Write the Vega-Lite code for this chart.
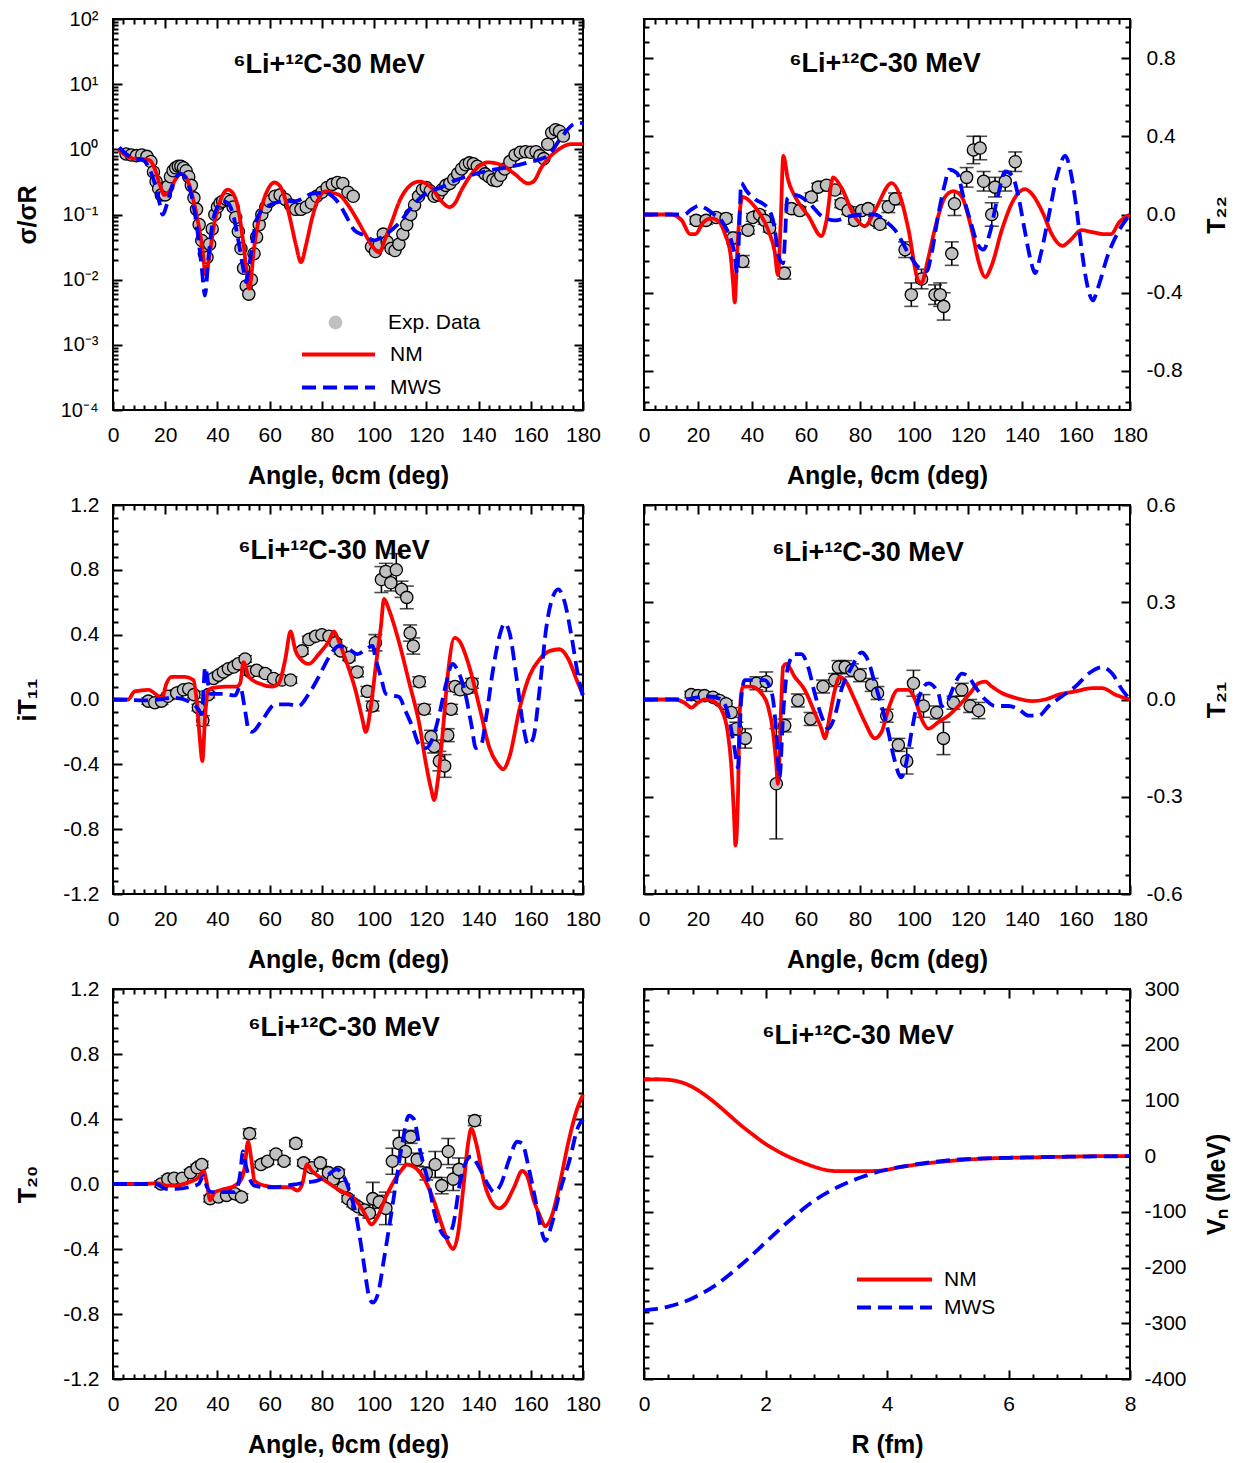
{
"$schema": "https://vega.github.io/schema/vega-lite/v6.json",
"background": "white",
"padding": {"left": 14, "top": 8, "right": 5, "bottom": 5},
"config": {
  "view": {"stroke": "black", "strokeWidth": 2},
  "font": "Liberation Sans",
  "axis": {"labelFont": "Liberation Sans", "titleFont": "Liberation Sans", "labelFontSize": 21, "titleFontSize": 25, "titleFontWeight": "bold", "labelColor": "black", "titleColor": "black", "tickColor": "black", "tickWidth": 2, "grid": false, "domain": false, "labelFlush": false, "labelOverlap": false},
  "legend": {"labelFont": "Liberation Sans", "labelFontSize": 21, "labelColor": "black", "padding": 0},
  "title": {"font": "Liberation Sans", "fontSize": 27, "fontWeight": "bold", "color": "black", "anchor": "middle", "frame": "group", "baseline": "alphabetic"}
},
"datasets": {
  "tl_lines": [
    {"model":"NM","angle":2,"value":1.0},{"model":"NM","angle":5,"value":0.8},{"model":"NM","angle":8,"value":0.72},{"model":"NM","angle":11,"value":0.71},{"model":"NM","angle":14,"value":0.68},{"model":"NM","angle":16,"value":0.5},{"model":"NM","angle":18,"value":0.28},{"model":"NM","angle":19.7,"value":0.2},{"model":"NM","angle":22,"value":0.24},{"model":"NM","angle":24,"value":0.35},{"model":"NM","angle":26,"value":0.42},{"model":"NM","angle":28,"value":0.37},{"model":"NM","angle":30,"value":0.22},{"model":"NM","angle":32,"value":0.1},{"model":"NM","angle":34,"value":0.035},{"model":"NM","angle":35.6,"value":0.012},{"model":"NM","angle":37,"value":0.025},{"model":"NM","angle":39,"value":0.08},{"model":"NM","angle":41,"value":0.16},{"model":"NM","angle":44,"value":0.24},{"model":"NM","angle":46,"value":0.21},{"model":"NM","angle":48,"value":0.12},{"model":"NM","angle":50,"value":0.035},{"model":"NM","angle":52.2,"value":0.0073},{"model":"NM","angle":54,"value":0.03},{"model":"NM","angle":56,"value":0.09},{"model":"NM","angle":58,"value":0.18},{"model":"NM","angle":60,"value":0.27},{"model":"NM","angle":61.8,"value":0.31},{"model":"NM","angle":64,"value":0.27},{"model":"NM","angle":66,"value":0.17},{"model":"NM","angle":68,"value":0.08},{"model":"NM","angle":70,"value":0.035},{"model":"NM","angle":72,"value":0.0186},{"model":"NM","angle":74,"value":0.035},{"model":"NM","angle":76,"value":0.08},{"model":"NM","angle":78,"value":0.15},{"model":"NM","angle":81.6,"value":0.227},{"model":"NM","angle":84,"value":0.215},{"model":"NM","angle":87,"value":0.195},{"model":"NM","angle":90,"value":0.14},{"model":"NM","angle":93,"value":0.09},{"model":"NM","angle":96,"value":0.055},{"model":"NM","angle":100,"value":0.03},{"model":"NM","angle":102,"value":0.026},{"model":"NM","angle":104,"value":0.04},{"model":"NM","angle":106.5,"value":0.072},{"model":"NM","angle":110,"value":0.17},{"model":"NM","angle":113,"value":0.26},{"model":"NM","angle":117.3,"value":0.32},{"model":"NM","angle":121.8,"value":0.26},{"model":"NM","angle":125.6,"value":0.163},{"model":"NM","angle":128.8,"value":0.13},{"model":"NM","angle":131,"value":0.15},{"model":"NM","angle":133.3,"value":0.23},{"model":"NM","angle":138.4,"value":0.47},{"model":"NM","angle":143.5,"value":0.63},{"model":"NM","angle":148.6,"value":0.58},{"model":"NM","angle":153.8,"value":0.42},{"model":"NM","angle":158.9,"value":0.3},{"model":"NM","angle":161,"value":0.32},{"model":"NM","angle":164,"value":0.52},{"model":"NM","angle":170.4,"value":0.98},{"model":"NM","angle":175.5,"value":1.2},{"model":"NM","angle":180,"value":1.2},
    {"model":"MWS","angle":2.4,"value":1.07},{"model":"MWS","angle":5,"value":0.85},{"model":"MWS","angle":8,"value":0.72},{"model":"MWS","angle":11,"value":0.7},{"model":"MWS","angle":14,"value":0.5},{"model":"MWS","angle":16,"value":0.3},{"model":"MWS","angle":18,"value":0.14},{"model":"MWS","angle":19,"value":0.1},{"model":"MWS","angle":21,"value":0.16},{"model":"MWS","angle":23,"value":0.3},{"model":"MWS","angle":26,"value":0.42},{"model":"MWS","angle":28,"value":0.35},{"model":"MWS","angle":30,"value":0.2},{"model":"MWS","angle":32,"value":0.07},{"model":"MWS","angle":34,"value":0.015},{"model":"MWS","angle":35.2,"value":0.0057},{"model":"MWS","angle":36.5,"value":0.02},{"model":"MWS","angle":38,"value":0.07},{"model":"MWS","angle":40,"value":0.13},{"model":"MWS","angle":42,"value":0.16},{"model":"MWS","angle":44,"value":0.15},{"model":"MWS","angle":46,"value":0.1},{"model":"MWS","angle":48,"value":0.04},{"model":"MWS","angle":50,"value":0.014},{"model":"MWS","angle":51,"value":0.0092},{"model":"MWS","angle":52.5,"value":0.02},{"model":"MWS","angle":54.5,"value":0.07},{"model":"MWS","angle":56.5,"value":0.11},{"model":"MWS","angle":58.7,"value":0.13},{"model":"MWS","angle":62,"value":0.15},{"model":"MWS","angle":66.3,"value":0.16},{"model":"MWS","angle":70,"value":0.16},{"model":"MWS","angle":73,"value":0.18},{"model":"MWS","angle":76.4,"value":0.21},{"model":"MWS","angle":81.6,"value":0.215},{"model":"MWS","angle":84,"value":0.19},{"model":"MWS","angle":86.7,"value":0.145},{"model":"MWS","angle":89,"value":0.1},{"model":"MWS","angle":92.5,"value":0.057},{"model":"MWS","angle":96.2,"value":0.048},{"model":"MWS","angle":100,"value":0.04},{"model":"MWS","angle":103.9,"value":0.048},{"model":"MWS","angle":109,"value":0.07},{"model":"MWS","angle":115.4,"value":0.146},{"model":"MWS","angle":120.5,"value":0.22},{"model":"MWS","angle":125.6,"value":0.26},{"model":"MWS","angle":130.7,"value":0.33},{"model":"MWS","angle":137.1,"value":0.4},{"model":"MWS","angle":143.5,"value":0.47},{"model":"MWS","angle":151.2,"value":0.53},{"model":"MWS","angle":158.9,"value":0.63},{"model":"MWS","angle":166.5,"value":0.8},{"model":"MWS","angle":171.6,"value":1.5},{"model":"MWS","angle":176.7,"value":2.45},{"model":"MWS","angle":180,"value":2.55}
  ],
  "tl_exp": [
    {"angle":5,"value":0.85},{"angle":7,"value":0.82},{"angle":9,"value":0.8},{"angle":11,"value":0.82},{"angle":13,"value":0.78},{"angle":14.5,"value":0.65},{"angle":15.5,"value":0.45},{"angle":16.5,"value":0.32},{"angle":17.5,"value":0.25},{"angle":18.5,"value":0.2},{"angle":20,"value":0.2},{"angle":21,"value":0.27},{"angle":22,"value":0.38},{"angle":23,"value":0.47},{"angle":24,"value":0.52},{"angle":25,"value":0.55},{"angle":26,"value":0.55},{"angle":27,"value":0.52},{"angle":28,"value":0.47},{"angle":29,"value":0.38},{"angle":30,"value":0.28},{"angle":31,"value":0.18},{"angle":32,"value":0.12},{"angle":33,"value":0.07},{"angle":34,"value":0.04},{"angle":35,"value":0.025},{"angle":36,"value":0.022},{"angle":37,"value":0.035},{"angle":38,"value":0.06},{"angle":39,"value":0.1},{"angle":40,"value":0.13},{"angle":41,"value":0.15},{"angle":42,"value":0.16},{"angle":43.5,"value":0.17},{"angle":45,"value":0.16},{"angle":46,"value":0.13},{"angle":47,"value":0.09},{"angle":48,"value":0.055},{"angle":49,"value":0.03},{"angle":50,"value":0.015},{"angle":51,"value":0.008},{"angle":52,"value":0.006},{"angle":53,"value":0.01},{"angle":54,"value":0.025},{"angle":55,"value":0.045},{"angle":56,"value":0.07},{"angle":57,"value":0.1},{"angle":58.5,"value":0.13},{"angle":60,"value":0.16},{"angle":62,"value":0.19},{"angle":64,"value":0.2},{"angle":66,"value":0.17},{"angle":68,"value":0.14},{"angle":70,"value":0.12},{"angle":72,"value":0.12},{"angle":74,"value":0.13},{"angle":76,"value":0.15},{"angle":78,"value":0.19},{"angle":80,"value":0.22},{"angle":82,"value":0.26},{"angle":84,"value":0.29},{"angle":86,"value":0.31},{"angle":88,"value":0.3},{"angle":90,"value":0.22},{"angle":92,"value":0.19},{"angle":99,"value":0.032},{"angle":100.5,"value":0.027},{"angle":102,"value":0.035},{"angle":103.5,"value":0.05},{"angle":105,"value":0.038},{"angle":106.5,"value":0.03},{"angle":108,"value":0.028},{"angle":109.5,"value":0.035},{"angle":111,"value":0.05},{"angle":112.5,"value":0.07},{"angle":114,"value":0.1},{"angle":115.5,"value":0.14},{"angle":117,"value":0.19},{"angle":118.5,"value":0.24},{"angle":120,"value":0.26},{"angle":121.5,"value":0.23},{"angle":123,"value":0.19},{"angle":124.5,"value":0.2},{"angle":126,"value":0.24},{"angle":127.5,"value":0.28},{"angle":129,"value":0.3},{"angle":130.5,"value":0.35},{"angle":132,"value":0.42},{"angle":133.5,"value":0.5},{"angle":135,"value":0.58},{"angle":136.5,"value":0.62},{"angle":138,"value":0.6},{"angle":139.5,"value":0.55},{"angle":141,"value":0.48},{"angle":142.5,"value":0.42},{"angle":144,"value":0.38},{"angle":145.5,"value":0.34},{"angle":147,"value":0.33},{"angle":148.5,"value":0.4},{"angle":150,"value":0.5},{"angle":152,"value":0.65},{"angle":154,"value":0.82},{"angle":156,"value":0.9},{"angle":158,"value":0.92},{"angle":160,"value":0.9},{"angle":162,"value":0.92},{"angle":163.5,"value":0.8},{"angle":165,"value":0.72},{"angle":166.5,"value":1.2},{"angle":168,"value":1.8},{"angle":169.5,"value":2.0},{"angle":171,"value":1.9},{"angle":172.5,"value":1.6}
  ],
  "tr_lines": [
    {"model":"NM","angle":0,"value":0},{"model":"NM","angle":10,"value":0},{"model":"NM","angle":14,"value":-0.03},{"model":"NM","angle":17,"value":-0.1},{"model":"NM","angle":19,"value":-0.1},{"model":"NM","angle":22,"value":-0.04},{"model":"NM","angle":25,"value":-0.02},{"model":"NM","angle":28,"value":-0.04},{"model":"NM","angle":30,"value":-0.1},{"model":"NM","angle":32,"value":-0.2},{"model":"NM","angle":33,"value":-0.35},{"model":"NM","angle":33.6,"value":-0.45},{"model":"NM","angle":34.5,"value":-0.2},{"model":"NM","angle":35.5,"value":0.02},{"model":"NM","angle":36.5,"value":0.09},{"model":"NM","angle":41,"value":0.04},{"model":"NM","angle":46,"value":-0.08},{"model":"NM","angle":48.4,"value":-0.19},{"model":"NM","angle":49.6,"value":-0.31},{"model":"NM","angle":50.6,"value":-0.05},{"model":"NM","angle":51.6,"value":0.3},{"model":"NM","angle":53.3,"value":0.18},{"model":"NM","angle":56,"value":0.09},{"model":"NM","angle":61,"value":-0.01},{"model":"NM","angle":65.7,"value":-0.11},{"model":"NM","angle":67.6,"value":-0.03},{"model":"NM","angle":70,"value":0.19},{"model":"NM","angle":73,"value":0.14},{"model":"NM","angle":78,"value":-0.01},{"model":"NM","angle":81.8,"value":-0.06},{"model":"NM","angle":85.5,"value":0.02},{"model":"NM","angle":91.7,"value":0.16},{"model":"NM","angle":95.4,"value":0.07},{"model":"NM","angle":98,"value":-0.08},{"model":"NM","angle":101.6,"value":-0.34},{"model":"NM","angle":102.8,"value":-0.35},{"model":"NM","angle":105,"value":-0.24},{"model":"NM","angle":107.8,"value":-0.07},{"model":"NM","angle":111.5,"value":0.09},{"model":"NM","angle":114.6,"value":0.12},{"model":"NM","angle":117.7,"value":0.09},{"model":"NM","angle":121.4,"value":-0.08},{"model":"NM","angle":123.9,"value":-0.24},{"model":"NM","angle":126.4,"value":-0.32},{"model":"NM","angle":128.8,"value":-0.26},{"model":"NM","angle":132.5,"value":-0.08},{"model":"NM","angle":136.3,"value":0.06},{"model":"NM","angle":141.2,"value":0.13},{"model":"NM","angle":144,"value":0.1},{"model":"NM","angle":148,"value":0.0},{"model":"NM","angle":151,"value":-0.1},{"model":"NM","angle":155,"value":-0.16},{"model":"NM","angle":158,"value":-0.13},{"model":"NM","angle":162,"value":-0.08},{"model":"NM","angle":166,"value":-0.09},{"model":"NM","angle":170,"value":-0.1},{"model":"NM","angle":173,"value":-0.1},{"model":"NM","angle":176,"value":-0.04},{"model":"NM","angle":180,"value":0.0},
    {"model":"MWS","angle":0,"value":0},{"model":"MWS","angle":15,"value":0},{"model":"MWS","angle":17,"value":0.02},{"model":"MWS","angle":20.5,"value":0.045},{"model":"MWS","angle":23,"value":0.03},{"model":"MWS","angle":26,"value":0.0},{"model":"MWS","angle":28,"value":-0.02},{"model":"MWS","angle":30,"value":-0.06},{"model":"MWS","angle":32,"value":-0.12},{"model":"MWS","angle":33.5,"value":-0.2},{"model":"MWS","angle":34.5,"value":-0.3},{"model":"MWS","angle":35.2,"value":-0.1},{"model":"MWS","angle":36,"value":0.16},{"model":"MWS","angle":38,"value":0.12},{"model":"MWS","angle":41,"value":0.08},{"model":"MWS","angle":46,"value":0.03},{"model":"MWS","angle":48.5,"value":-0.08},{"model":"MWS","angle":49.6,"value":-0.2},{"model":"MWS","angle":51.5,"value":-0.25},{"model":"MWS","angle":52.3,"value":-0.1},{"model":"MWS","angle":53,"value":0.08},{"model":"MWS","angle":56,"value":0.1},{"model":"MWS","angle":61,"value":0.06},{"model":"MWS","angle":66,"value":-0.01},{"model":"MWS","angle":71,"value":-0.03},{"model":"MWS","angle":76,"value":-0.01},{"model":"MWS","angle":81,"value":0.0},{"model":"MWS","angle":85.5,"value":0.0},{"model":"MWS","angle":89,"value":-0.03},{"model":"MWS","angle":93,"value":-0.08},{"model":"MWS","angle":98,"value":-0.2},{"model":"MWS","angle":101.6,"value":-0.27},{"model":"MWS","angle":104.7,"value":-0.29},{"model":"MWS","angle":106.5,"value":-0.2},{"model":"MWS","angle":109,"value":0.0},{"model":"MWS","angle":111.5,"value":0.16},{"model":"MWS","angle":113,"value":0.23},{"model":"MWS","angle":116,"value":0.21},{"model":"MWS","angle":118.3,"value":0.09},{"model":"MWS","angle":120.8,"value":-0.03},{"model":"MWS","angle":123.9,"value":-0.16},{"model":"MWS","angle":125.7,"value":-0.18},{"model":"MWS","angle":128,"value":-0.1},{"model":"MWS","angle":131,"value":0.09},{"model":"MWS","angle":133.8,"value":0.22},{"model":"MWS","angle":136.3,"value":0.2},{"model":"MWS","angle":138.7,"value":0.09},{"model":"MWS","angle":141,"value":-0.08},{"model":"MWS","angle":143.5,"value":-0.25},{"model":"MWS","angle":144.8,"value":-0.3},{"model":"MWS","angle":147,"value":-0.2},{"model":"MWS","angle":150,"value":0.0},{"model":"MWS","angle":153,"value":0.2},{"model":"MWS","angle":156,"value":0.3},{"model":"MWS","angle":158,"value":0.22},{"model":"MWS","angle":160,"value":0.05},{"model":"MWS","angle":162,"value":-0.17},{"model":"MWS","angle":164,"value":-0.35},{"model":"MWS","angle":166.3,"value":-0.44},{"model":"MWS","angle":168,"value":-0.38},{"model":"MWS","angle":172,"value":-0.2},{"model":"MWS","angle":176,"value":-0.08},{"model":"MWS","angle":180,"value":0.0}
  ],
  "tr_exp": [
    {"angle":19.3,"value":-0.03,"err":0.02},{"angle":23,"value":-0.03,"err":0.02},{"angle":26.7,"value":-0.015,"err":0.02},{"angle":30.4,"value":-0.02,"err":0.02},{"angle":33,"value":-0.12,"err":0.03},{"angle":36.6,"value":-0.24,"err":0.03},{"angle":38.5,"value":-0.08,"err":0.02},{"angle":40.3,"value":-0.015,"err":0.02},{"angle":42.8,"value":0.0,"err":0.02},{"angle":44.7,"value":-0.03,"err":0.02},{"angle":46.5,"value":-0.07,"err":0.02},{"angle":52,"value":-0.3,"err":0.03},{"angle":54.6,"value":0.03,"err":0.02},{"angle":57.7,"value":0.02,"err":0.02},{"angle":62,"value":0.09,"err":0.02},{"angle":64.5,"value":0.14,"err":0.02},{"angle":67.6,"value":0.15,"err":0.02},{"angle":70.7,"value":0.125,"err":0.02},{"angle":73,"value":0.055,"err":0.02},{"angle":75.6,"value":0.02,"err":0.02},{"angle":78,"value":-0.03,"err":0.02},{"angle":80.6,"value":0.02,"err":0.02},{"angle":83,"value":0.03,"err":0.02},{"angle":85.5,"value":-0.03,"err":0.02},{"angle":87.4,"value":-0.05,"err":0.02},{"angle":90.5,"value":0.04,"err":0.03},{"angle":93,"value":0.08,"err":0.03},{"angle":96.7,"value":-0.18,"err":0.04},{"angle":99,"value":-0.41,"err":0.06},{"angle":102.8,"value":-0.33,"err":0.05},{"angle":107.8,"value":-0.41,"err":0.05},{"angle":109.7,"value":-0.41,"err":0.06},{"angle":111,"value":-0.47,"err":0.07},{"angle":114,"value":-0.2,"err":0.06},{"angle":115,"value":0.055,"err":0.06},{"angle":119.5,"value":0.19,"err":0.05},{"angle":122,"value":0.33,"err":0.07},{"angle":124.5,"value":0.34,"err":0.06},{"angle":125.8,"value":0.17,"err":0.05},{"angle":128.8,"value":0.0,"err":0.06},{"angle":130,"value":0.14,"err":0.05},{"angle":133.8,"value":0.17,"err":0.05},{"angle":137.5,"value":0.27,"err":0.05}
  ],
  "ml_lines": [
    {"model":"NM","angle":0,"value":0},{"model":"NM","angle":5.8,"value":0},{"model":"NM","angle":8.3,"value":0.05},{"model":"NM","angle":13.5,"value":0.06},{"model":"NM","angle":17.3,"value":0.02},{"model":"NM","angle":18.6,"value":0.0},{"model":"NM","angle":20.5,"value":0.1},{"model":"NM","angle":22.4,"value":0.14},{"model":"NM","angle":27.6,"value":0.14},{"model":"NM","angle":30.8,"value":0.12},{"model":"NM","angle":32,"value":0.0},{"model":"NM","angle":33.3,"value":-0.25},{"model":"NM","angle":34.2,"value":-0.38},{"model":"NM","angle":35.3,"value":-0.1},{"model":"NM","angle":36.3,"value":0.05},{"model":"NM","angle":37.8,"value":0.07},{"model":"NM","angle":43,"value":0.08},{"model":"NM","angle":47.4,"value":0.08},{"model":"NM","angle":48.7,"value":0.1},{"model":"NM","angle":50,"value":0.23},{"model":"NM","angle":52,"value":0.14},{"model":"NM","angle":55.8,"value":0.1},{"model":"NM","angle":61,"value":0.08},{"model":"NM","angle":63.5,"value":0.1},{"model":"NM","angle":66,"value":0.25},{"model":"NM","angle":68,"value":0.42},{"model":"NM","angle":69.9,"value":0.3},{"model":"NM","angle":71.8,"value":0.25},{"model":"NM","angle":75,"value":0.22},{"model":"NM","angle":78.8,"value":0.28},{"model":"NM","angle":82.7,"value":0.36},{"model":"NM","angle":84.6,"value":0.42},{"model":"NM","angle":86.5,"value":0.36},{"model":"NM","angle":89,"value":0.25},{"model":"NM","angle":93,"value":0.05},{"model":"NM","angle":95.5,"value":-0.12},{"model":"NM","angle":96.8,"value":-0.2},{"model":"NM","angle":98.7,"value":-0.05},{"model":"NM","angle":100.6,"value":0.2},{"model":"NM","angle":102.6,"value":0.45},{"model":"NM","angle":103.8,"value":0.62},{"model":"NM","angle":105.8,"value":0.55},{"model":"NM","angle":109.6,"value":0.35},{"model":"NM","angle":113.5,"value":0.1},{"model":"NM","angle":117.3,"value":-0.15},{"model":"NM","angle":119.9,"value":-0.4},{"model":"NM","angle":121.8,"value":-0.55},{"model":"NM","angle":123,"value":-0.62},{"model":"NM","angle":124.4,"value":-0.5},{"model":"NM","angle":126.3,"value":-0.2},{"model":"NM","angle":128.2,"value":0.15},{"model":"NM","angle":130.8,"value":0.38},{"model":"NM","angle":132.7,"value":0.36},{"model":"NM","angle":136.5,"value":0.2},{"model":"NM","angle":140.4,"value":-0.05},{"model":"NM","angle":144.2,"value":-0.3},{"model":"NM","angle":147.4,"value":-0.4},{"model":"NM","angle":149.4,"value":-0.43},{"model":"NM","angle":151.9,"value":-0.35},{"model":"NM","angle":155.8,"value":-0.05},{"model":"NM","angle":159.6,"value":0.15},{"model":"NM","angle":163.5,"value":0.25},{"model":"NM","angle":167.3,"value":0.3},{"model":"NM","angle":171,"value":0.31},{"model":"NM","angle":174.4,"value":0.25},{"model":"NM","angle":177.6,"value":0.12},{"model":"NM","angle":180,"value":0.03},
    {"model":"MWS","angle":0,"value":0},{"model":"MWS","angle":13.5,"value":-0.005},{"model":"MWS","angle":23.7,"value":0.01},{"model":"MWS","angle":30,"value":-0.02},{"model":"MWS","angle":32.7,"value":-0.06},{"model":"MWS","angle":34,"value":-0.09},{"model":"MWS","angle":35.3,"value":0.2},{"model":"MWS","angle":37.2,"value":0.035},{"model":"MWS","angle":41.7,"value":0.035},{"model":"MWS","angle":46.8,"value":0.025},{"model":"MWS","angle":48.7,"value":0.08},{"model":"MWS","angle":50.6,"value":-0.07},{"model":"MWS","angle":52,"value":-0.19},{"model":"MWS","angle":53.2,"value":-0.2},{"model":"MWS","angle":57,"value":-0.13},{"model":"MWS","angle":62.2,"value":-0.03},{"model":"MWS","angle":67.3,"value":-0.03},{"model":"MWS","angle":71,"value":-0.04},{"model":"MWS","angle":75,"value":0.035},{"model":"MWS","angle":78.8,"value":0.14},{"model":"MWS","angle":82.7,"value":0.26},{"model":"MWS","angle":86.5,"value":0.33},{"model":"MWS","angle":90.4,"value":0.31},{"model":"MWS","angle":93.6,"value":0.28},{"model":"MWS","angle":96.8,"value":0.31},{"model":"MWS","angle":99.4,"value":0.33},{"model":"MWS","angle":100.6,"value":0.25},{"model":"MWS","angle":102.6,"value":0.14},{"model":"MWS","angle":104.5,"value":0.035},{"model":"MWS","angle":107,"value":0.025},{"model":"MWS","angle":109.6,"value":0.015},{"model":"MWS","angle":112,"value":-0.07},{"model":"MWS","angle":114.7,"value":-0.17},{"model":"MWS","angle":117.3,"value":-0.28},{"model":"MWS","angle":119.9,"value":-0.3},{"model":"MWS","angle":122.4,"value":-0.24},{"model":"MWS","angle":125,"value":-0.09},{"model":"MWS","angle":127.6,"value":0.1},{"model":"MWS","angle":130,"value":0.22},{"model":"MWS","angle":132,"value":0.18},{"model":"MWS","angle":134.6,"value":0.06},{"model":"MWS","angle":137.2,"value":-0.15},{"model":"MWS","angle":139,"value":-0.3},{"model":"MWS","angle":141,"value":-0.28},{"model":"MWS","angle":142.9,"value":-0.11},{"model":"MWS","angle":145.5,"value":0.18},{"model":"MWS","angle":148,"value":0.39},{"model":"MWS","angle":150,"value":0.47},{"model":"MWS","angle":151.9,"value":0.41},{"model":"MWS","angle":154.5,"value":0.14},{"model":"MWS","angle":157,"value":-0.15},{"model":"MWS","angle":159,"value":-0.28},{"model":"MWS","angle":160.9,"value":-0.24},{"model":"MWS","angle":163.5,"value":0.08},{"model":"MWS","angle":166,"value":0.45},{"model":"MWS","angle":168.6,"value":0.64},{"model":"MWS","angle":170.5,"value":0.68},{"model":"MWS","angle":173,"value":0.6},{"model":"MWS","angle":175.6,"value":0.39},{"model":"MWS","angle":178.2,"value":0.14},{"model":"MWS","angle":180,"value":0.02}
  ],
  "ml_exp": [
    {"angle":13.5,"value":-0.01,"err":0.02},{"angle":16,"value":-0.02,"err":0.02},{"angle":18.6,"value":-0.01,"err":0.02},{"angle":21,"value":0.02,"err":0.02},{"angle":24.4,"value":0.04,"err":0.02},{"angle":27,"value":0.06,"err":0.02},{"angle":29,"value":0.065,"err":0.02},{"angle":31,"value":0.03,"err":0.02},{"angle":32.7,"value":-0.05,"err":0.02},{"angle":34.4,"value":-0.13,"err":0.03},{"angle":36.5,"value":0.03,"err":0.02},{"angle":38.5,"value":0.13,"err":0.02},{"angle":40.4,"value":0.15,"err":0.02},{"angle":42.3,"value":0.17,"err":0.02},{"angle":44.2,"value":0.19,"err":0.02},{"angle":46.2,"value":0.2,"err":0.02},{"angle":48,"value":0.22,"err":0.02},{"angle":50.6,"value":0.25,"err":0.02},{"angle":52.6,"value":0.17,"err":0.02},{"angle":55,"value":0.18,"err":0.02},{"angle":58.3,"value":0.16,"err":0.02},{"angle":61.5,"value":0.13,"err":0.02},{"angle":64.7,"value":0.12,"err":0.02},{"angle":68,"value":0.12,"err":0.02},{"angle":72.4,"value":0.3,"err":0.02},{"angle":75,"value":0.37,"err":0.02},{"angle":77.6,"value":0.39,"err":0.02},{"angle":80,"value":0.4,"err":0.02},{"angle":82.7,"value":0.39,"err":0.02},{"angle":85.3,"value":0.35,"err":0.02},{"angle":87.2,"value":0.3,"err":0.02},{"angle":90.4,"value":0.26,"err":0.02},{"angle":93.5,"value":0.17,"err":0.03},{"angle":97.4,"value":0.05,"err":0.03},{"angle":99.4,"value":-0.04,"err":0.03},{"angle":100.5,"value":0.35,"err":0.05},{"angle":102.8,"value":0.74,"err":0.08},{"angle":104.5,"value":0.79,"err":0.05},{"angle":106.4,"value":0.72,"err":0.05},{"angle":108.5,"value":0.8,"err":0.1},{"angle":110.5,"value":0.68,"err":0.05},{"angle":112.5,"value":0.63,"err":0.07},{"angle":113.8,"value":0.41,"err":0.05},{"angle":115,"value":0.33,"err":0.05},{"angle":117.3,"value":0.11,"err":0.03},{"angle":119.2,"value":-0.06,"err":0.03},{"angle":121.8,"value":-0.23,"err":0.04},{"angle":123,"value":-0.29,"err":0.04},{"angle":125,"value":-0.38,"err":0.06},{"angle":127,"value":-0.41,"err":0.07},{"angle":128.2,"value":-0.22,"err":0.04},{"angle":129.5,"value":-0.06,"err":0.03},{"angle":131,"value":0.08,"err":0.03},{"angle":133,"value":0.06,"err":0.03},{"angle":135.9,"value":0.07,"err":0.03},{"angle":137.5,"value":0.1,"err":0.03}
  ],
  "mr_lines": [
    {"model":"NM","angle":0,"value":0},{"model":"NM","angle":11.3,"value":0},{"model":"NM","angle":15,"value":-0.01},{"model":"NM","angle":17.5,"value":-0.025},{"model":"NM","angle":20,"value":-0.01},{"model":"NM","angle":22.4,"value":0.0},{"model":"NM","angle":25.5,"value":-0.005},{"model":"NM","angle":28.6,"value":-0.03},{"model":"NM","angle":31,"value":-0.1},{"model":"NM","angle":32.3,"value":-0.2},{"model":"NM","angle":33.3,"value":-0.35},{"model":"NM","angle":33.9,"value":-0.45},{"model":"NM","angle":34.8,"value":-0.3},{"model":"NM","angle":35.4,"value":-0.05},{"model":"NM","angle":36.6,"value":0.04},{"model":"NM","angle":39.7,"value":0.04},{"model":"NM","angle":43.4,"value":0.02},{"model":"NM","angle":45.9,"value":-0.02},{"model":"NM","angle":47.8,"value":-0.1},{"model":"NM","angle":49,"value":-0.2},{"model":"NM","angle":49.6,"value":-0.26},{"model":"NM","angle":50.9,"value":0.0},{"model":"NM","angle":51.5,"value":0.1},{"model":"NM","angle":52.7,"value":0.11},{"model":"NM","angle":55.8,"value":0.07},{"model":"NM","angle":59.5,"value":0.03},{"model":"NM","angle":63.2,"value":-0.04},{"model":"NM","angle":65.7,"value":-0.09},{"model":"NM","angle":67,"value":-0.12},{"model":"NM","angle":68.8,"value":-0.05},{"model":"NM","angle":70.7,"value":0.03},{"model":"NM","angle":72.5,"value":0.07},{"model":"NM","angle":74.4,"value":0.06},{"model":"NM","angle":78,"value":0.0},{"model":"NM","angle":81.8,"value":-0.07},{"model":"NM","angle":85.5,"value":-0.12},{"model":"NM","angle":88,"value":-0.1},{"model":"NM","angle":90.5,"value":-0.03},{"model":"NM","angle":94,"value":0.03},{"model":"NM","angle":97.9,"value":0.03},{"model":"NM","angle":100.4,"value":0.0},{"model":"NM","angle":102.8,"value":-0.06},{"model":"NM","angle":105.3,"value":-0.09},{"model":"NM","angle":109,"value":-0.07},{"model":"NM","angle":112.7,"value":-0.05},{"model":"NM","angle":116.5,"value":-0.02},{"model":"NM","angle":120.8,"value":0.02},{"model":"NM","angle":123.9,"value":0.05},{"model":"NM","angle":126.4,"value":0.055},{"model":"NM","angle":128.8,"value":0.04},{"model":"NM","angle":132.5,"value":0.02},{"model":"NM","angle":137.5,"value":0.005},{"model":"NM","angle":143.7,"value":-0.005},{"model":"NM","angle":148.6,"value":0.0},{"model":"NM","angle":153.6,"value":0.015},{"model":"NM","angle":159.8,"value":0.025},{"model":"NM","angle":166,"value":0.035},{"model":"NM","angle":169.7,"value":0.035},{"model":"NM","angle":174.6,"value":0.015},{"model":"NM","angle":180,"value":0},
    {"model":"MWS","angle":0,"value":0},{"model":"MWS","angle":15,"value":0},{"model":"MWS","angle":18.7,"value":0.005},{"model":"MWS","angle":23.6,"value":0.01},{"model":"MWS","angle":28.6,"value":0.0},{"model":"MWS","angle":31,"value":-0.04},{"model":"MWS","angle":33.5,"value":-0.15},{"model":"MWS","angle":34.8,"value":-0.21},{"model":"MWS","angle":36,"value":0.0},{"model":"MWS","angle":37.3,"value":0.06},{"model":"MWS","angle":41,"value":0.06},{"model":"MWS","angle":44.7,"value":0.06},{"model":"MWS","angle":46.5,"value":0.04},{"model":"MWS","angle":47.8,"value":0.0},{"model":"MWS","angle":49,"value":-0.1},{"model":"MWS","angle":50.2,"value":-0.24},{"model":"MWS","angle":51.5,"value":-0.05},{"model":"MWS","angle":53.3,"value":0.1},{"model":"MWS","angle":55.8,"value":0.14},{"model":"MWS","angle":58.3,"value":0.14},{"model":"MWS","angle":60.8,"value":0.1},{"model":"MWS","angle":63.2,"value":0.02},{"model":"MWS","angle":65.7,"value":-0.05},{"model":"MWS","angle":68.2,"value":-0.09},{"model":"MWS","angle":70.7,"value":-0.05},{"model":"MWS","angle":73.1,"value":0.03},{"model":"MWS","angle":76.9,"value":0.1},{"model":"MWS","angle":80.6,"value":0.145},{"model":"MWS","angle":83,"value":0.12},{"model":"MWS","angle":85.5,"value":0.05},{"model":"MWS","angle":88,"value":-0.02},{"model":"MWS","angle":90.5,"value":-0.1},{"model":"MWS","angle":92.3,"value":-0.17},{"model":"MWS","angle":95.3,"value":-0.24},{"model":"MWS","angle":97,"value":-0.2},{"model":"MWS","angle":99.1,"value":-0.1},{"model":"MWS","angle":101.6,"value":0.0},{"model":"MWS","angle":105.3,"value":0.05},{"model":"MWS","angle":109,"value":0.02},{"model":"MWS","angle":110.3,"value":-0.02},{"model":"MWS","angle":112.7,"value":0.0},{"model":"MWS","angle":115.2,"value":0.05},{"model":"MWS","angle":117.7,"value":0.08},{"model":"MWS","angle":120.2,"value":0.07},{"model":"MWS","angle":122.6,"value":0.04},{"model":"MWS","angle":126.4,"value":0.0},{"model":"MWS","angle":130,"value":-0.02},{"model":"MWS","angle":135,"value":-0.02},{"model":"MWS","angle":138.7,"value":-0.03},{"model":"MWS","angle":142.5,"value":-0.05},{"model":"MWS","angle":146.2,"value":-0.05},{"model":"MWS","angle":149.9,"value":-0.02},{"model":"MWS","angle":154.8,"value":0.01},{"model":"MWS","angle":159.8,"value":0.04},{"model":"MWS","angle":164.7,"value":0.08},{"model":"MWS","angle":169.7,"value":0.1},{"model":"MWS","angle":173.4,"value":0.08},{"model":"MWS","angle":177.1,"value":0.03},{"model":"MWS","angle":180,"value":0}
  ],
  "mr_exp": [
    {"angle":17.5,"value":0.015,"err":0.01},{"angle":20,"value":0.012,"err":0.01},{"angle":22.4,"value":0.012,"err":0.01},{"angle":25.5,"value":0.007,"err":0.01},{"angle":28,"value":-0.003,"err":0.01},{"angle":30.4,"value":-0.013,"err":0.01},{"angle":32.3,"value":-0.04,"err":0.015},{"angle":34.2,"value":-0.09,"err":0.02},{"angle":37.5,"value":-0.12,"err":0.03},{"angle":41.6,"value":0.05,"err":0.02},{"angle":45.3,"value":0.055,"err":0.03},{"angle":49,"value":-0.26,"err":0.17},{"angle":52.1,"value":-0.08,"err":0.02},{"angle":57,"value":-0.003,"err":0.02},{"angle":61.7,"value":-0.06,"err":0.02},{"angle":66.3,"value":0.04,"err":0.02},{"angle":70.7,"value":0.06,"err":0.02},{"angle":72,"value":0.1,"err":0.02},{"angle":74.5,"value":0.1,"err":0.02},{"angle":77,"value":0.09,"err":0.02},{"angle":80,"value":0.075,"err":0.02},{"angle":84.3,"value":0.045,"err":0.02},{"angle":86.5,"value":0.02,"err":0.02},{"angle":89.9,"value":-0.05,"err":0.02},{"angle":94.2,"value":-0.14,"err":0.02},{"angle":97.3,"value":-0.19,"err":0.04},{"angle":99.8,"value":0.05,"err":0.04},{"angle":103.5,"value":-0.02,"err":0.035},{"angle":108.4,"value":-0.04,"err":0.02},{"angle":110.9,"value":-0.12,"err":0.05},{"angle":114.6,"value":-0.01,"err":0.02},{"angle":117.7,"value":0.03,"err":0.02},{"angle":120.8,"value":-0.02,"err":0.02},{"angle":123.9,"value":-0.034,"err":0.025}
  ],
  "bl_lines": [
    {"model":"NM","angle":0,"value":0},{"model":"NM","angle":11.4,"value":0},{"model":"NM","angle":16.5,"value":0.005},{"model":"NM","angle":20.3,"value":-0.01},{"model":"NM","angle":24,"value":-0.01},{"model":"NM","angle":29,"value":0.01},{"model":"NM","angle":32.8,"value":0.04},{"model":"NM","angle":34.7,"value":0.08},{"model":"NM","angle":36,"value":0.0},{"model":"NM","angle":37.2,"value":-0.1},{"model":"NM","angle":39,"value":-0.05},{"model":"NM","angle":42.9,"value":-0.03},{"model":"NM","angle":46.7,"value":-0.01},{"model":"NM","angle":49.2,"value":0.03},{"model":"NM","angle":50.4,"value":0.1},{"model":"NM","angle":51.7,"value":0.26},{"model":"NM","angle":53,"value":0.15},{"model":"NM","angle":54.2,"value":0.02},{"model":"NM","angle":58,"value":-0.01},{"model":"NM","angle":63,"value":-0.02},{"model":"NM","angle":68,"value":-0.02},{"model":"NM","angle":70.6,"value":-0.04},{"model":"NM","angle":72.5,"value":0.0},{"model":"NM","angle":74.3,"value":0.12},{"model":"NM","angle":76.2,"value":0.08},{"model":"NM","angle":79.4,"value":0.04},{"model":"NM","angle":83.1,"value":0.0},{"model":"NM","angle":86.9,"value":-0.04},{"model":"NM","angle":90.7,"value":-0.07},{"model":"NM","angle":94.5,"value":-0.13},{"model":"NM","angle":97,"value":-0.2},{"model":"NM","angle":98.9,"value":-0.25},{"model":"NM","angle":101.4,"value":-0.2},{"model":"NM","angle":104.5,"value":-0.08},{"model":"NM","angle":107,"value":0.0},{"model":"NM","angle":110.2,"value":0.08},{"model":"NM","angle":112.7,"value":0.12},{"model":"NM","angle":115.8,"value":0.1},{"model":"NM","angle":119.6,"value":0.02},{"model":"NM","angle":122.8,"value":-0.1},{"model":"NM","angle":125.9,"value":-0.25},{"model":"NM","angle":128.4,"value":-0.36},{"model":"NM","angle":130.3,"value":-0.4},{"model":"NM","angle":132.2,"value":-0.3},{"model":"NM","angle":134,"value":-0.05},{"model":"NM","angle":136,"value":0.25},{"model":"NM","angle":137.2,"value":0.34},{"model":"NM","angle":139.1,"value":0.25},{"model":"NM","angle":142.3,"value":0.0},{"model":"NM","angle":145.4,"value":-0.12},{"model":"NM","angle":147.9,"value":-0.15},{"model":"NM","angle":150.4,"value":-0.12},{"model":"NM","angle":153.6,"value":-0.02},{"model":"NM","angle":156.7,"value":0.08},{"model":"NM","angle":158.6,"value":0.05},{"model":"NM","angle":161.1,"value":-0.1},{"model":"NM","angle":163.6,"value":-0.2},{"model":"NM","angle":165.5,"value":-0.26},{"model":"NM","angle":168,"value":-0.2},{"model":"NM","angle":171.1,"value":0.0},{"model":"NM","angle":174.3,"value":0.25},{"model":"NM","angle":177.5,"value":0.45},{"model":"NM","angle":180,"value":0.55},
    {"model":"MWS","angle":0,"value":0},{"model":"MWS","angle":16.5,"value":0},{"model":"MWS","angle":20.3,"value":-0.03},{"model":"MWS","angle":24,"value":-0.03},{"model":"MWS","angle":29,"value":-0.02},{"model":"MWS","angle":32.8,"value":0.0},{"model":"MWS","angle":34.7,"value":0.05},{"model":"MWS","angle":36,"value":-0.02},{"model":"MWS","angle":37.9,"value":-0.05},{"model":"MWS","angle":41.6,"value":-0.05},{"model":"MWS","angle":46.7,"value":-0.05},{"model":"MWS","angle":48.6,"value":0.05},{"model":"MWS","angle":49.8,"value":0.2},{"model":"MWS","angle":51.1,"value":0.1},{"model":"MWS","angle":54.2,"value":-0.01},{"model":"MWS","angle":58,"value":-0.02},{"model":"MWS","angle":61.8,"value":-0.02},{"model":"MWS","angle":66.8,"value":-0.01},{"model":"MWS","angle":70.6,"value":0.0},{"model":"MWS","angle":74.3,"value":0.01},{"model":"MWS","angle":78.1,"value":0.02},{"model":"MWS","angle":81.9,"value":0.05},{"model":"MWS","angle":85.7,"value":0.09},{"model":"MWS","angle":88.2,"value":0.05},{"model":"MWS","angle":90.7,"value":-0.05},{"model":"MWS","angle":93.2,"value":-0.2},{"model":"MWS","angle":95.7,"value":-0.45},{"model":"MWS","angle":98.2,"value":-0.7},{"model":"MWS","angle":99.5,"value":-0.73},{"model":"MWS","angle":101.4,"value":-0.68},{"model":"MWS","angle":103.9,"value":-0.45},{"model":"MWS","angle":106.4,"value":-0.2},{"model":"MWS","angle":108.3,"value":0.0},{"model":"MWS","angle":110.8,"value":0.25},{"model":"MWS","angle":113.3,"value":0.42},{"model":"MWS","angle":115.2,"value":0.4},{"model":"MWS","angle":117.7,"value":0.2},{"model":"MWS","angle":120.9,"value":0.0},{"model":"MWS","angle":123.4,"value":-0.2},{"model":"MWS","angle":125.9,"value":-0.3},{"model":"MWS","angle":127.8,"value":-0.33},{"model":"MWS","angle":130.3,"value":-0.25},{"model":"MWS","angle":132.8,"value":0.0},{"model":"MWS","angle":135.3,"value":0.14},{"model":"MWS","angle":137.2,"value":0.17},{"model":"MWS","angle":140.3,"value":0.1},{"model":"MWS","angle":143.5,"value":0.0},{"model":"MWS","angle":146,"value":-0.05},{"model":"MWS","angle":148.6,"value":0.0},{"model":"MWS","angle":151.7,"value":0.15},{"model":"MWS","angle":154.8,"value":0.26},{"model":"MWS","angle":156.7,"value":0.25},{"model":"MWS","angle":159.2,"value":0.1},{"model":"MWS","angle":161.8,"value":-0.1},{"model":"MWS","angle":164.3,"value":-0.3},{"model":"MWS","angle":165.5,"value":-0.35},{"model":"MWS","angle":168,"value":-0.25},{"model":"MWS","angle":171.1,"value":-0.05},{"model":"MWS","angle":174.9,"value":0.15},{"model":"MWS","angle":178.1,"value":0.35},{"model":"MWS","angle":180,"value":0.4}
  ],
  "bl_exp": [
    {"angle":18.4,"value":0.0,"err":0.02},{"angle":21,"value":0.03,"err":0.02},{"angle":23.4,"value":0.035,"err":0.02},{"angle":26.5,"value":0.035,"err":0.02},{"angle":29.7,"value":0.07,"err":0.02},{"angle":32.2,"value":0.1,"err":0.02},{"angle":34,"value":0.12,"err":0.02},{"angle":37.2,"value":-0.09,"err":0.02},{"angle":40.4,"value":-0.08,"err":0.02},{"angle":43.5,"value":-0.07,"err":0.02},{"angle":46.7,"value":-0.06,"err":0.02},{"angle":49.2,"value":-0.08,"err":0.02},{"angle":52.3,"value":0.31,"err":0.03},{"angle":56.7,"value":0.12,"err":0.02},{"angle":59.2,"value":0.14,"err":0.02},{"angle":62.4,"value":0.185,"err":0.02},{"angle":65.5,"value":0.14,"err":0.02},{"angle":70,"value":0.25,"err":0.02},{"angle":73,"value":0.13,"err":0.02},{"angle":76.2,"value":0.1,"err":0.02},{"angle":79.4,"value":0.13,"err":0.02},{"angle":82.5,"value":0.07,"err":0.02},{"angle":84.4,"value":0.03,"err":0.02},{"angle":86.3,"value":0.07,"err":0.02},{"angle":88.2,"value":-0.02,"err":0.02},{"angle":90,"value":-0.09,"err":0.02},{"angle":92,"value":-0.12,"err":0.02},{"angle":93.8,"value":-0.14,"err":0.02},{"angle":96.4,"value":-0.16,"err":0.03},{"angle":98.2,"value":-0.18,"err":0.03},{"angle":99.5,"value":-0.09,"err":0.1},{"angle":102,"value":-0.11,"err":0.04},{"angle":104.5,"value":-0.15,"err":0.1},{"angle":107,"value":0.14,"err":0.08},{"angle":109.6,"value":0.25,"err":0.08},{"angle":112,"value":0.2,"err":0.08},{"angle":114,"value":0.29,"err":0.04},{"angle":116.5,"value":0.15,"err":0.04},{"angle":120,"value":0.065,"err":0.04},{"angle":123.4,"value":0.12,"err":0.08},{"angle":125.9,"value":-0.01,"err":0.05},{"angle":128.4,"value":0.2,"err":0.08},{"angle":130.3,"value":0.03,"err":0.07},{"angle":132.5,"value":0.09,"err":0.07},{"angle":138.5,"value":0.39,"err":0.03}
  ],
  "br_lines": [
    {"model":"NM","r":0,"v":137},{"model":"NM","r":0.2,"v":138},{"model":"NM","r":0.4,"v":137},{"model":"NM","r":0.6,"v":133},{"model":"NM","r":0.8,"v":124},{"model":"NM","r":1.0,"v":110},{"model":"NM","r":1.2,"v":93},{"model":"NM","r":1.4,"v":74},{"model":"NM","r":1.6,"v":55},{"model":"NM","r":1.8,"v":38},{"model":"NM","r":2.0,"v":22},{"model":"NM","r":2.2,"v":9},{"model":"NM","r":2.4,"v":-2},{"model":"NM","r":2.6,"v":-11},{"model":"NM","r":2.8,"v":-19},{"model":"NM","r":3.0,"v":-25},{"model":"NM","r":3.2,"v":-27},{"model":"NM","r":3.6,"v":-27},{"model":"NM","r":3.9,"v":-26},{"model":"NM","r":4.2,"v":-20},{"model":"NM","r":4.5,"v":-15},{"model":"NM","r":5.0,"v":-9},{"model":"NM","r":5.5,"v":-5},{"model":"NM","r":6.0,"v":-3},{"model":"NM","r":6.5,"v":-2},{"model":"NM","r":7.0,"v":-1},{"model":"NM","r":7.5,"v":0},{"model":"NM","r":8.0,"v":0},
    {"model":"MWS","r":0,"v":-277},{"model":"MWS","r":0.4,"v":-270},{"model":"MWS","r":0.8,"v":-255},{"model":"MWS","r":1.2,"v":-230},{"model":"MWS","r":1.6,"v":-195},{"model":"MWS","r":2.0,"v":-155},{"model":"MWS","r":2.4,"v":-115},{"model":"MWS","r":2.8,"v":-80},{"model":"MWS","r":3.2,"v":-55},{"model":"MWS","r":3.6,"v":-37},{"model":"MWS","r":4.0,"v":-24},{"model":"MWS","r":4.4,"v":-16},{"model":"MWS","r":4.8,"v":-10},{"model":"MWS","r":5.2,"v":-6},{"model":"MWS","r":5.6,"v":-4},{"model":"MWS","r":6.0,"v":-3},{"model":"MWS","r":7.0,"v":-1},{"model":"MWS","r":8.0,"v":0}
  ]
},
"columns": 2,
"spacing": {"row": 95, "column": 61},
"bounds": "flush",
"resolve": {"scale": {"color": "independent", "strokeDash": "independent", "shape": "independent"}, "legend": {"color": "independent", "strokeDash": "independent", "shape": "independent"}},
"concat": [
  {"width": 470, "height": 391,
   "title": {"text": "⁶Li+¹²C-30 MeV", "offset": -70, "dx": -19},
   "resolve": {"axis": {"x": "independent", "y": "independent"}},
   "layer": [
    {"data": {"name": "tl_exp"},
     "mark": {"type": "point", "filled": false, "color": "black", "fill": "#c0c0c0", "fillOpacity": 1, "strokeWidth": 1.3, "size": 150, "opacity": 1},
     "encoding": {
      "x": {"field": "angle", "type": "quantitative", "scale": {"domain": [0, 180], "nice": false, "zero": false},
            "axis": {"orient": "top", "offset": -391, "values": [0,4,8,12,16,20,24,28,32,36,40,44,48,52,56,60,64,68,72,76,80,84,88,92,96,100,104,108,112,116,120,124,128,132,136,140,144,148,152,156,160,164,168,172,176,180], "labels": false, "title": null, "tickSize": {"condition": {"test": "datum.value % 20 === 0", "value": 9}, "value": 5}}},
      "y": {"field": "value", "type": "quantitative", "scale": {"type": "log", "domain": [0.0001, 100], "nice": false},
            "axis": {"orient": "right", "offset": -470, "values": [0.0001,0.0002,0.0003,0.0004,0.0005,0.0006,0.0007,0.0008,0.0009,0.001,0.002,0.003,0.004,0.005,0.006,0.007,0.008,0.009,0.01,0.02,0.03,0.04,0.05,0.06,0.07,0.08,0.09,0.1,0.2,0.3,0.4,0.5,0.6,0.7,0.8,0.9,1,2,3,4,5,6,7,8,9,10,20,30,40,50,60,70,80,90,100], "labels": false, "title": null, "tickSize": {"condition": {"test": "abs(log(datum.value)/LN10 - round(log(datum.value)/LN10)) < 0.01", "value": 9}, "value": 5}}},
      "shape": {"datum": "Exp. Data", "scale": {"domain": ["Exp. Data"], "range": ["circle"]},
                "legend": {"orient": "none", "legendX": 212, "legendY": 293, "title": null, "symbolSize": 190, "symbolFillColor": "#c0c0c0", "symbolStrokeColor": "black", "symbolStrokeWidth": 1.3, "symbolOpacity": 1, "labelOffset": 42}}
     }},
    {"data": {"name": "tl_lines"}, "transform": [{"filter": "datum.model === 'NM'"}],
     "mark": {"type": "line", "strokeWidth": 3.8, "interpolate": "monotone"},
     "encoding": {
      "x": {"field": "angle", "type": "quantitative", "scale": {"domain": [0, 180], "nice": false, "zero": false},
            "axis": {"orient": "bottom", "values": [0,20,40,60,80,100,120,140,160,180], "ticks": false, "labelPadding": 14, "title": "Angle, θcm (deg)", "titlePadding": 18, "format": "d"}},
      "y": {"field": "value", "type": "quantitative", "scale": {"type": "log", "domain": [0.0001, 100], "nice": false},
            "axis": {"orient": "left", "values": [0.0001,0.001,0.01,0.1,1,10,100], "ticks": false, "labelPadding": 15, "labelExpr": "['10⁻⁴','10⁻³','10⁻²','10⁻¹','10⁰','10¹','10²'][round(log(datum.value)/LN10)+4]", "title": "σ/σR", "titlePadding": 20, "labelFontSize": 20}},
      "color": {"field": "model", "type": "nominal", "scale": {"domain": ["NM", "MWS"], "range": ["#ff0000", "#0000ff"]},
                "legend": {"orient": "none", "legendX": 214, "legendY": 324, "title": null, "symbolType": "M-4,0H4", "symbolSize": 333, "symbolStrokeWidth": 3.8, "labelOffset": 40, "rowPadding": 11}},
      "strokeDash": {"field": "model", "type": "nominal", "scale": {"domain": ["NM", "MWS"], "range": [[1, 0], [14, 7]]},
                "legend": {"orient": "none", "legendX": 214, "legendY": 324, "title": null, "symbolType": "M-4,0H4", "symbolSize": 333, "symbolStrokeWidth": 3.8, "labelOffset": 40, "rowPadding": 11}}
     }},
    {"data": {"name": "tl_lines"}, "transform": [{"filter": "datum.model === 'MWS'"}],
     "mark": {"type": "line", "strokeWidth": 3.8, "interpolate": "monotone"},
     "encoding": {
      "x": {"field": "angle", "type": "quantitative", "scale": {"domain": [0, 180], "nice": false, "zero": false},
            "axis": {"orient": "bottom", "offset": -391, "values": [0,4,8,12,16,20,24,28,32,36,40,44,48,52,56,60,64,68,72,76,80,84,88,92,96,100,104,108,112,116,120,124,128,132,136,140,144,148,152,156,160,164,168,172,176,180], "labels": false, "title": null, "tickSize": {"condition": {"test": "datum.value % 20 === 0", "value": 9}, "value": 5}}},
      "y": {"field": "value", "type": "quantitative", "scale": {"type": "log", "domain": [0.0001, 100], "nice": false},
            "axis": {"orient": "left", "offset": -470, "values": [0.0001,0.0002,0.0003,0.0004,0.0005,0.0006,0.0007,0.0008,0.0009,0.001,0.002,0.003,0.004,0.005,0.006,0.007,0.008,0.009,0.01,0.02,0.03,0.04,0.05,0.06,0.07,0.08,0.09,0.1,0.2,0.3,0.4,0.5,0.6,0.7,0.8,0.9,1,2,3,4,5,6,7,8,9,10,20,30,40,50,60,70,80,90,100], "labels": false, "title": null, "tickSize": {"condition": {"test": "abs(log(datum.value)/LN10 - round(log(datum.value)/LN10)) < 0.01", "value": 9}, "value": 5}}},
      "color": {"field": "model", "type": "nominal", "scale": {"domain": ["NM", "MWS"], "range": ["#ff0000", "#0000ff"]}},
      "strokeDash": {"field": "model", "type": "nominal", "scale": {"domain": ["NM", "MWS"], "range": [[1, 0], [14, 7]]}}
     }}
   ]},
  {"width": 486, "height": 391,
   "title": {"text": "⁶Li+¹²C-30 MeV", "offset": -60, "dx": -2},
   "resolve": {"axis": {"x": "independent", "y": "independent"}},
   "layer": [
    {"data": {"name": "tr_exp"},
     "mark": {"type": "errorbar", "ticks": true, "size": 14, "thickness": 1.6, "color": "black"},
     "encoding": {
      "x": {"field": "angle", "type": "quantitative", "scale": {"domain": [0, 180], "nice": false, "zero": false}, "axis": null},
      "y": {"field": "value", "type": "quantitative", "scale": {"domain": [-1, 1], "nice": false, "zero": false}, "axis": null},
      "yError": {"field": "err"}
     }},
    {"data": {"name": "tr_exp"},
     "mark": {"type": "point", "filled": true, "fill": "#c0c0c0", "stroke": "black", "strokeWidth": 1.3, "size": 150, "opacity": 1},
     "encoding": {
      "x": {"field": "angle", "type": "quantitative", "scale": {"domain": [0, 180], "nice": false, "zero": false},
            "axis": {"orient": "top", "offset": -391, "values": [0,4,8,12,16,20,24,28,32,36,40,44,48,52,56,60,64,68,72,76,80,84,88,92,96,100,104,108,112,116,120,124,128,132,136,140,144,148,152,156,160,164,168,172,176,180], "labels": false, "title": null, "tickSize": {"condition": {"test": "datum.value % 20 === 0", "value": 9}, "value": 5}}},
      "y": {"field": "value", "type": "quantitative", "scale": {"domain": [-1, 1], "nice": false, "zero": false},
            "axis": {"orient": "right", "offset": -486, "values": [-0.96,-0.88,-0.8,-0.72,-0.64,-0.56,-0.48,-0.4,-0.32,-0.24,-0.16,-0.08,0,0.08,0.16,0.24,0.32,0.4,0.48,0.56,0.64,0.72,0.8,0.88,0.96], "labels": false, "title": null, "tickSize": {"condition": {"test": "abs(datum.value/0.4 - round(datum.value/0.4)) < 0.001", "value": 9}, "value": 5}}}
     }},
    {"data": {"name": "tr_lines"}, "transform": [{"filter": "datum.model === 'NM'"}],
     "mark": {"type": "line", "strokeWidth": 3.8, "interpolate": "monotone", "color": "#ff0000"},
     "encoding": {
      "x": {"field": "angle", "type": "quantitative", "scale": {"domain": [0, 180], "nice": false, "zero": false},
            "axis": {"orient": "bottom", "values": [0,20,40,60,80,100,120,140,160,180], "ticks": false, "labelPadding": 14, "title": "Angle, θcm (deg)", "titlePadding": 18, "format": "d"}},
      "y": {"field": "value", "type": "quantitative", "scale": {"domain": [-1, 1], "nice": false, "zero": false},
            "axis": {"orient": "right", "values": [-0.8,-0.4,0,0.4,0.8], "ticks": false, "labelPadding": 16, "labelExpr": "replace(format(datum.value, '.1f'), '−', '-')", "title": "T₂₂", "titleAngle": 270, "titleBaseline": "top", "titlePadding": 22}}
     }},
    {"data": {"name": "tr_lines"}, "transform": [{"filter": "datum.model === 'MWS'"}],
     "mark": {"type": "line", "strokeWidth": 3.8, "interpolate": "monotone", "color": "#0000ff", "strokeDash": [14, 7]},
     "encoding": {
      "x": {"field": "angle", "type": "quantitative", "scale": {"domain": [0, 180], "nice": false, "zero": false},
            "axis": {"orient": "bottom", "offset": -391, "values": [0,4,8,12,16,20,24,28,32,36,40,44,48,52,56,60,64,68,72,76,80,84,88,92,96,100,104,108,112,116,120,124,128,132,136,140,144,148,152,156,160,164,168,172,176,180], "labels": false, "title": null, "tickSize": {"condition": {"test": "datum.value % 20 === 0", "value": 9}, "value": 5}}},
      "y": {"field": "value", "type": "quantitative", "scale": {"domain": [-1, 1], "nice": false, "zero": false},
            "axis": {"orient": "left", "offset": -486, "values": [-0.96,-0.88,-0.8,-0.72,-0.64,-0.56,-0.48,-0.4,-0.32,-0.24,-0.16,-0.08,0,0.08,0.16,0.24,0.32,0.4,0.48,0.56,0.64,0.72,0.8,0.88,0.96], "labels": false, "title": null, "tickSize": {"condition": {"test": "abs(datum.value/0.4 - round(datum.value/0.4)) < 0.001", "value": 9}, "value": 5}}}
     }}
   ]},
  {"width": 470, "height": 389,
   "title": {"text": "⁶Li+¹²C-30 MeV", "offset": -71, "dx": -14},
   "resolve": {"axis": {"x": "independent", "y": "independent"}},
   "layer": [
    {"data": {"name": "ml_exp"},
     "mark": {"type": "errorbar", "ticks": true, "size": 14, "thickness": 1.6, "color": "black"},
     "encoding": {
      "x": {"field": "angle", "type": "quantitative", "scale": {"domain": [0, 180], "nice": false, "zero": false}, "axis": null},
      "y": {"field": "value", "type": "quantitative", "scale": {"domain": [-1.2, 1.2], "nice": false, "zero": false}, "axis": null},
      "yError": {"field": "err"}
     }},
    {"data": {"name": "ml_exp"},
     "mark": {"type": "point", "filled": true, "fill": "#c0c0c0", "stroke": "black", "strokeWidth": 1.3, "size": 150, "opacity": 1},
     "encoding": {
      "x": {"field": "angle", "type": "quantitative", "scale": {"domain": [0, 180], "nice": false, "zero": false},
            "axis": {"orient": "top", "offset": -389, "values": [0,4,8,12,16,20,24,28,32,36,40,44,48,52,56,60,64,68,72,76,80,84,88,92,96,100,104,108,112,116,120,124,128,132,136,140,144,148,152,156,160,164,168,172,176,180], "labels": false, "title": null, "tickSize": {"condition": {"test": "datum.value % 20 === 0", "value": 9}, "value": 5}}},
      "y": {"field": "value", "type": "quantitative", "scale": {"domain": [-1.2, 1.2], "nice": false, "zero": false},
            "axis": {"orient": "right", "offset": -470, "values": [-1.2,-1.12,-1.04,-0.96,-0.88,-0.8,-0.72,-0.64,-0.56,-0.48,-0.4,-0.32,-0.24,-0.16,-0.08,0,0.08,0.16,0.24,0.32,0.4,0.48,0.56,0.64,0.72,0.8,0.88,0.96,1.04,1.12,1.2], "labels": false, "title": null, "tickSize": {"condition": {"test": "abs(datum.value/0.4 - round(datum.value/0.4)) < 0.001", "value": 9}, "value": 5}}}
     }},
    {"data": {"name": "ml_lines"}, "transform": [{"filter": "datum.model === 'NM'"}],
     "mark": {"type": "line", "strokeWidth": 3.8, "interpolate": "monotone", "color": "#ff0000"},
     "encoding": {
      "x": {"field": "angle", "type": "quantitative", "scale": {"domain": [0, 180], "nice": false, "zero": false},
            "axis": {"orient": "bottom", "values": [0,20,40,60,80,100,120,140,160,180], "ticks": false, "labelPadding": 14, "title": "Angle, θcm (deg)", "titlePadding": 18, "format": "d"}},
      "y": {"field": "value", "type": "quantitative", "scale": {"domain": [-1.2, 1.2], "nice": false, "zero": false},
            "axis": {"orient": "left", "values": [-1.2,-0.8,-0.4,0,0.4,0.8,1.2], "ticks": false, "labelPadding": 14, "labelExpr": "replace(format(datum.value, '.1f'), '−', '-')", "title": "iT₁₁", "titlePadding": 22}}
     }},
    {"data": {"name": "ml_lines"}, "transform": [{"filter": "datum.model === 'MWS'"}],
     "mark": {"type": "line", "strokeWidth": 3.8, "interpolate": "monotone", "color": "#0000ff", "strokeDash": [14, 7]},
     "encoding": {
      "x": {"field": "angle", "type": "quantitative", "scale": {"domain": [0, 180], "nice": false, "zero": false},
            "axis": {"orient": "bottom", "offset": -389, "values": [0,4,8,12,16,20,24,28,32,36,40,44,48,52,56,60,64,68,72,76,80,84,88,92,96,100,104,108,112,116,120,124,128,132,136,140,144,148,152,156,160,164,168,172,176,180], "labels": false, "title": null, "tickSize": {"condition": {"test": "datum.value % 20 === 0", "value": 9}, "value": 5}}},
      "y": {"field": "value", "type": "quantitative", "scale": {"domain": [-1.2, 1.2], "nice": false, "zero": false},
            "axis": {"orient": "left", "offset": -470, "values": [-1.2,-1.12,-1.04,-0.96,-0.88,-0.8,-0.72,-0.64,-0.56,-0.48,-0.4,-0.32,-0.24,-0.16,-0.08,0,0.08,0.16,0.24,0.32,0.4,0.48,0.56,0.64,0.72,0.8,0.88,0.96,1.04,1.12,1.2], "labels": false, "title": null, "tickSize": {"condition": {"test": "abs(datum.value/0.4 - round(datum.value/0.4)) < 0.001", "value": 9}, "value": 5}}}
     }}
   ]},
  {"width": 486, "height": 389,
   "title": {"text": "⁶Li+¹²C-30 MeV", "offset": -73, "dx": -19},
   "resolve": {"axis": {"x": "independent", "y": "independent"}},
   "layer": [
    {"data": {"name": "mr_exp"},
     "mark": {"type": "errorbar", "ticks": true, "size": 14, "thickness": 1.6, "color": "black"},
     "encoding": {
      "x": {"field": "angle", "type": "quantitative", "scale": {"domain": [0, 180], "nice": false, "zero": false}, "axis": null},
      "y": {"field": "value", "type": "quantitative", "scale": {"domain": [-0.6, 0.6], "nice": false, "zero": false}, "axis": null},
      "yError": {"field": "err"}
     }},
    {"data": {"name": "mr_exp"},
     "mark": {"type": "point", "filled": true, "fill": "#c0c0c0", "stroke": "black", "strokeWidth": 1.3, "size": 150, "opacity": 1},
     "encoding": {
      "x": {"field": "angle", "type": "quantitative", "scale": {"domain": [0, 180], "nice": false, "zero": false},
            "axis": {"orient": "top", "offset": -389, "values": [0,4,8,12,16,20,24,28,32,36,40,44,48,52,56,60,64,68,72,76,80,84,88,92,96,100,104,108,112,116,120,124,128,132,136,140,144,148,152,156,160,164,168,172,176,180], "labels": false, "title": null, "tickSize": {"condition": {"test": "datum.value % 20 === 0", "value": 9}, "value": 5}}},
      "y": {"field": "value", "type": "quantitative", "scale": {"domain": [-0.6, 0.6], "nice": false, "zero": false},
            "axis": {"orient": "right", "offset": -486, "values": [-0.6,-0.54,-0.48,-0.42,-0.36,-0.3,-0.24,-0.18,-0.12,-0.06,0,0.06,0.12,0.18,0.24,0.3,0.36,0.42,0.48,0.54,0.6], "labels": false, "title": null, "tickSize": {"condition": {"test": "abs(datum.value/0.3 - round(datum.value/0.3)) < 0.001", "value": 9}, "value": 5}}}
     }},
    {"data": {"name": "mr_lines"}, "transform": [{"filter": "datum.model === 'NM'"}],
     "mark": {"type": "line", "strokeWidth": 3.8, "interpolate": "monotone", "color": "#ff0000"},
     "encoding": {
      "x": {"field": "angle", "type": "quantitative", "scale": {"domain": [0, 180], "nice": false, "zero": false},
            "axis": {"orient": "bottom", "values": [0,20,40,60,80,100,120,140,160,180], "ticks": false, "labelPadding": 14, "title": "Angle, θcm (deg)", "titlePadding": 18, "format": "d"}},
      "y": {"field": "value", "type": "quantitative", "scale": {"domain": [-0.6, 0.6], "nice": false, "zero": false},
            "axis": {"orient": "right", "values": [-0.6,-0.3,0,0.3,0.6], "ticks": false, "labelPadding": 16, "labelExpr": "replace(format(datum.value, '.1f'), '−', '-')", "title": "T₂₁", "titleAngle": 270, "titleBaseline": "top", "titlePadding": 22}}
     }},
    {"data": {"name": "mr_lines"}, "transform": [{"filter": "datum.model === 'MWS'"}],
     "mark": {"type": "line", "strokeWidth": 3.8, "interpolate": "monotone", "color": "#0000ff", "strokeDash": [14, 7]},
     "encoding": {
      "x": {"field": "angle", "type": "quantitative", "scale": {"domain": [0, 180], "nice": false, "zero": false},
            "axis": {"orient": "bottom", "offset": -389, "values": [0,4,8,12,16,20,24,28,32,36,40,44,48,52,56,60,64,68,72,76,80,84,88,92,96,100,104,108,112,116,120,124,128,132,136,140,144,148,152,156,160,164,168,172,176,180], "labels": false, "title": null, "tickSize": {"condition": {"test": "datum.value % 20 === 0", "value": 9}, "value": 5}}},
      "y": {"field": "value", "type": "quantitative", "scale": {"domain": [-0.6, 0.6], "nice": false, "zero": false},
            "axis": {"orient": "left", "offset": -486, "values": [-0.6,-0.54,-0.48,-0.42,-0.36,-0.3,-0.24,-0.18,-0.12,-0.06,0,0.06,0.12,0.18,0.24,0.3,0.36,0.42,0.48,0.54,0.6], "labels": false, "title": null, "tickSize": {"condition": {"test": "abs(datum.value/0.3 - round(datum.value/0.3)) < 0.001", "value": 9}, "value": 5}}}
     }}
   ]},
  {"width": 470, "height": 390,
   "title": {"text": "⁶Li+¹²C-30 MeV", "offset": -64, "dx": -4},
   "resolve": {"axis": {"x": "independent", "y": "independent"}},
   "layer": [
    {"data": {"name": "bl_exp"},
     "mark": {"type": "errorbar", "ticks": true, "size": 14, "thickness": 1.6, "color": "black"},
     "encoding": {
      "x": {"field": "angle", "type": "quantitative", "scale": {"domain": [0, 180], "nice": false, "zero": false}, "axis": null},
      "y": {"field": "value", "type": "quantitative", "scale": {"domain": [-1.2, 1.2], "nice": false, "zero": false}, "axis": null},
      "yError": {"field": "err"}
     }},
    {"data": {"name": "bl_exp"},
     "mark": {"type": "point", "filled": true, "fill": "#c0c0c0", "stroke": "black", "strokeWidth": 1.3, "size": 150, "opacity": 1},
     "encoding": {
      "x": {"field": "angle", "type": "quantitative", "scale": {"domain": [0, 180], "nice": false, "zero": false},
            "axis": {"orient": "top", "offset": -390, "values": [0,4,8,12,16,20,24,28,32,36,40,44,48,52,56,60,64,68,72,76,80,84,88,92,96,100,104,108,112,116,120,124,128,132,136,140,144,148,152,156,160,164,168,172,176,180], "labels": false, "title": null, "tickSize": {"condition": {"test": "datum.value % 20 === 0", "value": 9}, "value": 5}}},
      "y": {"field": "value", "type": "quantitative", "scale": {"domain": [-1.2, 1.2], "nice": false, "zero": false},
            "axis": {"orient": "right", "offset": -470, "values": [-1.2,-1.12,-1.04,-0.96,-0.88,-0.8,-0.72,-0.64,-0.56,-0.48,-0.4,-0.32,-0.24,-0.16,-0.08,0,0.08,0.16,0.24,0.32,0.4,0.48,0.56,0.64,0.72,0.8,0.88,0.96,1.04,1.12,1.2], "labels": false, "title": null, "tickSize": {"condition": {"test": "abs(datum.value/0.4 - round(datum.value/0.4)) < 0.001", "value": 9}, "value": 5}}}
     }},
    {"data": {"name": "bl_lines"}, "transform": [{"filter": "datum.model === 'NM'"}],
     "mark": {"type": "line", "strokeWidth": 3.8, "interpolate": "monotone", "color": "#ff0000"},
     "encoding": {
      "x": {"field": "angle", "type": "quantitative", "scale": {"domain": [0, 180], "nice": false, "zero": false},
            "axis": {"orient": "bottom", "values": [0,20,40,60,80,100,120,140,160,180], "ticks": false, "labelPadding": 14, "title": "Angle, θcm (deg)", "titlePadding": 18, "format": "d"}},
      "y": {"field": "value", "type": "quantitative", "scale": {"domain": [-1.2, 1.2], "nice": false, "zero": false},
            "axis": {"orient": "left", "values": [-1.2,-0.8,-0.4,0,0.4,0.8,1.2], "ticks": false, "labelPadding": 14, "labelExpr": "replace(format(datum.value, '.1f'), '−', '-')", "title": "T₂₀", "titlePadding": 22}}
     }},
    {"data": {"name": "bl_lines"}, "transform": [{"filter": "datum.model === 'MWS'"}],
     "mark": {"type": "line", "strokeWidth": 3.8, "interpolate": "monotone", "color": "#0000ff", "strokeDash": [14, 7]},
     "encoding": {
      "x": {"field": "angle", "type": "quantitative", "scale": {"domain": [0, 180], "nice": false, "zero": false},
            "axis": {"orient": "bottom", "offset": -390, "values": [0,4,8,12,16,20,24,28,32,36,40,44,48,52,56,60,64,68,72,76,80,84,88,92,96,100,104,108,112,116,120,124,128,132,136,140,144,148,152,156,160,164,168,172,176,180], "labels": false, "title": null, "tickSize": {"condition": {"test": "datum.value % 20 === 0", "value": 9}, "value": 5}}},
      "y": {"field": "value", "type": "quantitative", "scale": {"domain": [-1.2, 1.2], "nice": false, "zero": false},
            "axis": {"orient": "left", "offset": -470, "values": [-1.2,-1.12,-1.04,-0.96,-0.88,-0.8,-0.72,-0.64,-0.56,-0.48,-0.4,-0.32,-0.24,-0.16,-0.08,0,0.08,0.16,0.24,0.32,0.4,0.48,0.56,0.64,0.72,0.8,0.88,0.96,1.04,1.12,1.2], "labels": false, "title": null, "tickSize": {"condition": {"test": "abs(datum.value/0.4 - round(datum.value/0.4)) < 0.001", "value": 9}, "value": 5}}}
     }}
   ]},
  {"width": 486, "height": 390,
   "title": {"text": "⁶Li+¹²C-30 MeV", "offset": -72, "dx": -29},
   "resolve": {"axis": {"x": "independent", "y": "independent"}},
   "layer": [
    {"data": {"name": "br_lines"},
     "mark": {"type": "point", "opacity": 0},
     "encoding": {
      "x": {"field": "r", "type": "quantitative", "scale": {"domain": [0, 8], "nice": false, "zero": false},
            "axis": {"orient": "top", "offset": -390, "values": [0,0.4,0.8,1.2,1.6,2,2.4,2.8,3.2,3.6,4,4.4,4.8,5.2,5.6,6,6.4,6.8,7.2,7.6,8], "labels": false, "title": null, "tickSize": {"condition": {"test": "abs(datum.value/2 - round(datum.value/2)) < 0.001", "value": 9}, "value": 5}}},
      "y": {"field": "v", "type": "quantitative", "scale": {"domain": [-400, 300], "nice": false, "zero": false},
            "axis": {"orient": "right", "offset": -486, "values": [-400,-380,-360,-340,-320,-300,-280,-260,-240,-220,-200,-180,-160,-140,-120,-100,-80,-60,-40,-20,0,20,40,60,80,100,120,140,160,180,200,220,240,260,280,300], "labels": false, "title": null, "tickSize": {"condition": {"test": "datum.value % 100 === 0", "value": 9}, "value": 5}}}
     }},
    {"data": {"name": "br_lines"}, "transform": [{"filter": "datum.model === 'NM'"}],
     "mark": {"type": "line", "strokeWidth": 3.8, "interpolate": "monotone"},
     "encoding": {
      "x": {"field": "r", "type": "quantitative", "scale": {"domain": [0, 8], "nice": false, "zero": false},
            "axis": {"orient": "bottom", "values": [0,2,4,6,8], "ticks": false, "labelPadding": 14, "title": "R (fm)", "titlePadding": 18, "format": "d"}},
      "y": {"field": "v", "type": "quantitative", "scale": {"domain": [-400, 300], "nice": false, "zero": false},
            "axis": {"orient": "right", "values": [-400,-300,-200,-100,0,100,200,300], "ticks": false, "labelPadding": 14, "labelExpr": "replace(format(datum.value, 'd'), '−', '-')", "title": "Vₙ (MeV)", "titleAngle": 270, "titleBaseline": "top", "titlePadding": 18}},
      "color": {"field": "model", "type": "nominal", "scale": {"domain": ["NM", "MWS"], "range": ["#ff0000", "#0000ff"]},
                "legend": {"orient": "none", "legendX": 239, "legendY": 279, "title": null, "symbolType": "M-4,0H4", "symbolSize": 352, "symbolStrokeWidth": 3.8, "labelOffset": 38, "rowPadding": 6}},
      "strokeDash": {"field": "model", "type": "nominal", "scale": {"domain": ["NM", "MWS"], "range": [[1, 0], [14, 7]]},
                "legend": {"orient": "none", "legendX": 239, "legendY": 279, "title": null, "symbolType": "M-4,0H4", "symbolSize": 352, "symbolStrokeWidth": 3.8, "labelOffset": 38, "rowPadding": 6}}
     }},
    {"data": {"name": "br_lines"}, "transform": [{"filter": "datum.model === 'MWS'"}],
     "mark": {"type": "line", "strokeWidth": 3.8, "interpolate": "monotone"},
     "encoding": {
      "x": {"field": "r", "type": "quantitative", "scale": {"domain": [0, 8], "nice": false, "zero": false},
            "axis": {"orient": "bottom", "offset": -390, "values": [0,0.4,0.8,1.2,1.6,2,2.4,2.8,3.2,3.6,4,4.4,4.8,5.2,5.6,6,6.4,6.8,7.2,7.6,8], "labels": false, "title": null, "tickSize": {"condition": {"test": "abs(datum.value/2 - round(datum.value/2)) < 0.001", "value": 9}, "value": 5}}},
      "y": {"field": "v", "type": "quantitative", "scale": {"domain": [-400, 300], "nice": false, "zero": false},
            "axis": {"orient": "left", "offset": -486, "values": [-400,-380,-360,-340,-320,-300,-280,-260,-240,-220,-200,-180,-160,-140,-120,-100,-80,-60,-40,-20,0,20,40,60,80,100,120,140,160,180,200,220,240,260,280,300], "labels": false, "title": null, "tickSize": {"condition": {"test": "datum.value % 100 === 0", "value": 9}, "value": 5}}},
      "color": {"field": "model", "type": "nominal", "scale": {"domain": ["NM", "MWS"], "range": ["#ff0000", "#0000ff"]}},
      "strokeDash": {"field": "model", "type": "nominal", "scale": {"domain": ["NM", "MWS"], "range": [[1, 0], [14, 7]]}}
     }}
   ]}
]
}
